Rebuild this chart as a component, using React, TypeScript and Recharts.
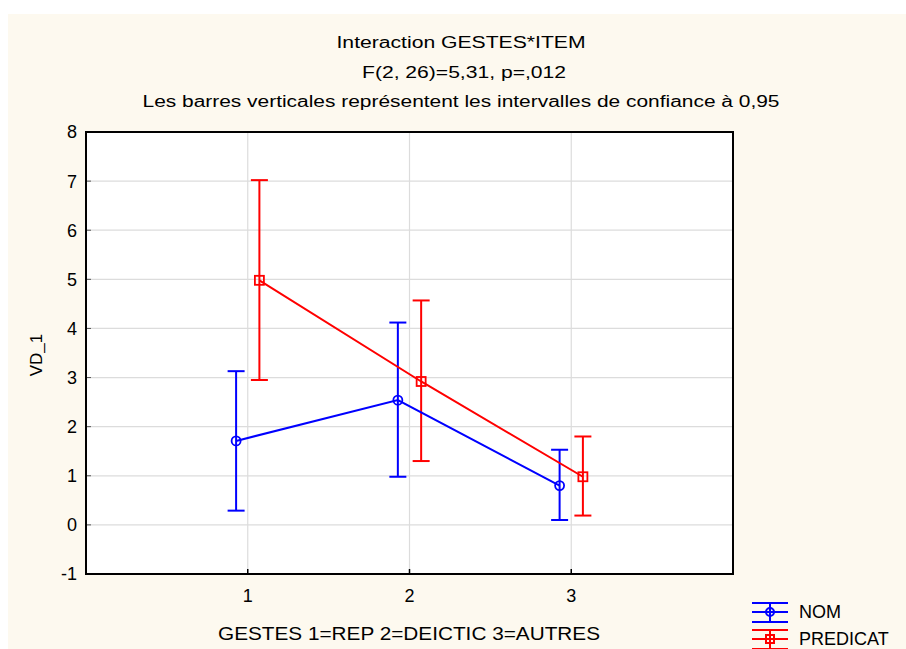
import React from 'react';
import {
  ComposedChart,
  Scatter,
  ErrorBar,
  XAxis,
  YAxis,
  CartesianGrid
} from 'recharts';

// GESTES levels
const gestes = [1, 2, 3];
const yTicks = [-1, 0, 1, 2, 3, 4, 5, 6, 7, 8];

// NOM: means and 0.95 CI bounds
const nomMean = [1.71, 2.54, 0.8];
const nomLow = [0.29, 0.98, 0.1];
const nomHigh = [3.13, 4.12, 1.53];

// PREDICAT: means and 0.95 CI bounds
const predMean = [4.98, 2.92, 0.98];
const predLow = [2.95, 1.3, 0.19];
const predHigh = [7.02, 4.57, 1.8];

const BLUE = '#0000ff';
const RED = '#ff0000';
const FONT = '"Liberation Sans", Arial, sans-serif';

// small horizontal shift so both series don't overlap
const buildSeries = (means: number[], lows: number[], highs: number[], shift: number) =>
  gestes.map((g, i) => ({
    x: g + shift,
    y: means[i],
    err: [means[i] - lows[i], highs[i] - means[i]]
  }));

const nomData = buildSeries(nomMean, nomLow, nomHigh, -0.072);
const predData = buildSeries(predMean, predLow, predHigh, 0.072);

const CircleShape = (props: any) => (
  <circle cx={props.cx} cy={props.cy} r={4.5} fill="none" stroke={BLUE} strokeWidth={1.8} />
);

const SquareShape = (props: any) => (
  <rect x={props.cx - 4.5} y={props.cy - 4.5} width={9} height={9} fill="none" stroke={RED} strokeWidth={1.8} />
);

const legendItems = [
  { name: 'NOM', color: BLUE, square: false },
  { name: 'PREDICAT', color: RED, square: true }
];

const tickStyle = { fill: '#000', fontSize: 18, fontFamily: FONT };

export default function App() {
  return (
    <div style={{ position: 'absolute', left: 0, top: 0, width: 906, height: 649, background: '#fff' }}>
      <div style={{ position: 'absolute', left: 8, top: 14, width: 898, height: 635, background: '#fdf9ef' }} />
      <ComposedChart
        width={906}
        height={649}
        margin={{ top: 132, right: 173, bottom: 45, left: 26 }}
        style={{ position: 'absolute', left: 0, top: 0 }}
      >
        <CartesianGrid stroke="#dcdcdc" strokeWidth={1.2} fill="#ffffff" />
        <XAxis
          type="number"
          dataKey="x"
          domain={[0, 4]}
          ticks={gestes}
          allowDataOverflow
          height={30}
          axisLine={{ stroke: '#000', strokeWidth: 2 }}
          tickLine={{ stroke: '#000', strokeWidth: 1.5 }}
          tickSize={-5}
          tick={tickStyle}
          tickMargin={20}
        />
        <YAxis
          type="number"
          dataKey="y"
          domain={[-1, 8]}
          ticks={yTicks}
          interval={0}
          allowDataOverflow
          width={60}
          axisLine={{ stroke: '#000', strokeWidth: 2 }}
          tickLine={{ stroke: '#555', strokeWidth: 1 }}
          tickSize={-5}
          tickMargin={14}
          tick={tickStyle}
        />
        <Scatter
          name="NOM"
          data={nomData}
          line={{ stroke: BLUE, strokeWidth: 2 }}
          shape={CircleShape}
          isAnimationActive={false}
        >
          <ErrorBar dataKey="err" direction="y" width={8.5} stroke={BLUE} strokeWidth={2} />
        </Scatter>
        <Scatter
          name="PREDICAT"
          data={predData}
          line={{ stroke: RED, strokeWidth: 2 }}
          shape={SquareShape}
          isAnimationActive={false}
        >
          <ErrorBar dataKey="err" direction="y" width={8.5} stroke={RED} strokeWidth={2} />
        </Scatter>
      </ComposedChart>
      <svg width={906} height={649} style={{ position: 'absolute', left: 0, top: 0, pointerEvents: 'none' }}>
        {/* plot frame */}
        <rect x={86} y={132} width={647} height={442} fill="none" stroke="#000" strokeWidth={2} />
        <g fontFamily={FONT} fill="#000" textAnchor="middle">
          <text x={461} y={48} fontSize={16} textLength={249} lengthAdjust="spacingAndGlyphs">
            Interaction GESTES*ITEM
          </text>
          <text x={464} y={78} fontSize={16} textLength={204} lengthAdjust="spacingAndGlyphs">
            F(2, 26)=5,31, p=,012
          </text>
          <text x={461} y={107} fontSize={16} textLength={637} lengthAdjust="spacingAndGlyphs">
            Les barres verticales représentent les intervalles de confiance à 0,95
          </text>
          <text x={409} y={640} fontSize={18} textLength={382} lengthAdjust="spacingAndGlyphs">
            GESTES 1=REP 2=DEICTIC 3=AUTRES
          </text>
          <text x={42} y={355} fontSize={17} transform="rotate(-90 42 355)">
            VD_1
          </text>
        </g>
        {legendItems.map((it, i) => {
          const cy = 612 + i * 27;
          return (
            <g key={it.name} stroke={it.color} strokeWidth={2} fill="none">
              <line x1={752} x2={788} y1={cy - 9} y2={cy - 9} />
              <line x1={752} x2={788} y1={cy} y2={cy} />
              <line x1={752} x2={788} y1={cy + 10} y2={cy + 10} />
              <line x1={770} x2={770} y1={cy - 9} y2={cy + 10} />
              {it.square ? (
                <rect x={766} y={cy - 4} width={8} height={8} />
              ) : (
                <circle cx={770} cy={cy} r={4} />
              )}
              <text x={799} y={cy + 6} stroke="none" fill="#000" fontSize={18} fontFamily={FONT}>
                {it.name}
              </text>
            </g>
          );
        })}
      </svg>
    </div>
  );
}
